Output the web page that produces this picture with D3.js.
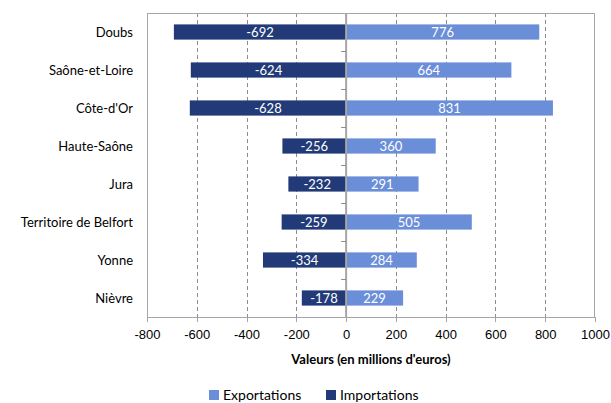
<!DOCTYPE html>
<meta charset="utf-8">
<style>
body { margin: 0; background: #fff; }
svg { font-family: Lato, "Open Sans", sans-serif; }
.axis path, .axis line { fill: none; stroke: #a6a6a6; shape-rendering: crispEdges; }
.axis text { font-size: 13px; fill: #000; }
.grid line { stroke: #8c8c8c; stroke-dasharray: 4,3; shape-rendering: crispEdges; }
.val { font-size: 13px; fill: #fff; text-anchor: middle; }
</style>
<body>
<script src="https://cdn.jsdelivr.net/npm/d3@7"></script>
<script>
// data
var departements = ["Doubs", "Saône-et-Loire", "Côte-d'Or", "Haute-Saône", "Jura",
                    "Territoire de Belfort", "Yonne", "Nièvre"];
var exportations = [776, 664, 831, 360, 291, 505, 284, 229];
var importations = [-692, -624, -628, -256, -232, -259, -334, -178];
var xTicks = [-800, -600, -400, -200, 0, 200, 400, 600, 800, 1000];
var series = ["Exportations", "Importations"];
var couleurs = ["#6a8ed8", "#223b78"];

var margin = {top: 13, right: 16, bottom: 86, left: 147},
    width = 611 - margin.left - margin.right,
    height = 403 - margin.top - margin.bottom;

var svg = d3.select("body").append("svg")
    .attr("width", 611)
    .attr("height", 403);
var g = svg.append("g")
    .attr("transform", "translate(" + margin.left + "," + margin.top + ")");

var x = d3.scaleLinear().domain([-800, 1000]).range([0, width]);
var y = d3.scaleBand().domain(departements).range([0, height]).paddingInner(0.6).paddingOuter(0.3);

// dashed gridlines
g.append("g").attr("class", "grid")
  .selectAll("line")
    .data(xTicks.filter(function(d) { return d !== 0 && d !== -800 && d !== 1000; }))
  .enter().append("line")
    .attr("x1", function(d) { return Math.round(x(d)) + 0.5; })
    .attr("x2", function(d) { return Math.round(x(d)) + 0.5; })
    .attr("y1", 0)
    .attr("y2", height);

// plot frame (top / right / left)
g.append("path")
    .attr("d", "M0.5," + height + "V0.5H" + (width - 0.5) + "V" + height)
    .attr("fill", "none")
    .attr("stroke", "#a6a6a6")
    .attr("shape-rendering", "crispEdges");

// bars
var rows = departements.map(function(d, i) {
  return {dep: d, exp: exportations[i], imp: importations[i]};
});

g.selectAll(".imp")
    .data(rows)
  .enter().append("rect")
    .attr("class", "imp")
    .attr("x", function(d) { return x(d.imp); })
    .attr("width", function(d) { return x(0) - x(d.imp); })
    .attr("y", function(d) { return y(d.dep); })
    .attr("height", y.bandwidth())
    .attr("fill", couleurs[1]);

g.selectAll(".exp")
    .data(rows)
  .enter().append("rect")
    .attr("class", "exp")
    .attr("x", x(0))
    .attr("width", function(d) { return x(d.exp) - x(0); })
    .attr("y", function(d) { return y(d.dep); })
    .attr("height", y.bandwidth())
    .attr("fill", couleurs[0]);

// value labels
g.selectAll(".vimp")
    .data(rows)
  .enter().append("text")
    .attr("class", "val")
    .attr("x", function(d) { return (x(d.imp) + x(0)) / 2; })
    .attr("y", function(d) { return y(d.dep) + y.bandwidth() / 2; })
    .attr("dy", "0.36em")
    .text(function(d) { return d.imp; });

g.selectAll(".vexp")
    .data(rows)
  .enter().append("text")
    .attr("class", "val")
    .attr("x", function(d) { return (x(d.exp) + x(0)) / 2; })
    .attr("y", function(d) { return y(d.dep) + y.bandwidth() / 2; })
    .attr("dy", "0.36em")
    .text(function(d) { return d.exp; });

// zero axis with ticks between categories
var bounds = departements.slice(1).map(function(d) { return y(d) - y.step() * y.paddingInner() / 2; });
g.append("line")
    .attr("x1", x(0)).attr("x2", x(0))
    .attr("y1", 0).attr("y2", height)
    .attr("stroke", "#a6a6a6")
    .attr("stroke-width", 2);
g.selectAll(".ztick")
    .data(bounds)
  .enter().append("line")
    .attr("x1", x(0) - 5).attr("x2", x(0))
    .attr("y1", function(d) { return Math.round(d) + 0.5; })
    .attr("y2", function(d) { return Math.round(d) + 0.5; })
    .attr("stroke", "#8c8c8c");

// category labels
g.selectAll(".cat")
    .data(departements)
  .enter().append("text")
    .attr("x", -14)
    .attr("y", function(d) { return y(d) + y.bandwidth() / 2; })
    .attr("dy", "0.36em")
    .attr("text-anchor", "end")
    .style("font-size", "13px")
    .text(function(d) { return d; });

// x axis
g.append("g")
    .attr("class", "axis")
    .attr("transform", "translate(0," + height + ")")
    .call(d3.axisBottom(x).tickValues(xTicks).tickSize(5).tickSizeOuter(0).tickPadding(8)
      .tickFormat(function(d) { return d; }));

g.append("text")
    .attr("x", width / 2)
    .attr("y", height + 47)
    .attr("text-anchor", "middle")
    .attr("font-weight", "bold")
    .style("font-size", "13px")
    .text("Valeurs (en millions d'euros)");

// legend
var legX = [209, 326];
var leg = svg.selectAll(".leg")
    .data(series)
  .enter().append("g")
    .attr("transform", function(d, i) { return "translate(" + legX[i] + ",390)"; });
leg.append("rect")
    .attr("width", 10).attr("height", 10)
    .attr("fill", function(d, i) { return couleurs[i]; });
leg.append("text")
    .attr("x", 14)
    .attr("y", 5)
    .attr("dy", "0.33em")
    .style("font-size", "14px")
    .text(function(d) { return d; });
</script>
</body>
